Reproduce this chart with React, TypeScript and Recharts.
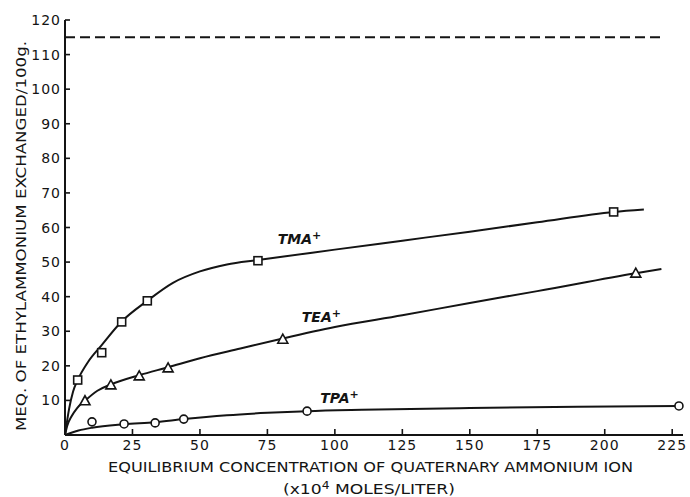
// Ion exchange isotherms: quaternary ammonium ions vs ethylammonium
import { ComposedChart, Label, Line, Scatter, XAxis, YAxis } from "recharts";

// axis ticks
const X_TICKS = [0, 25, 50, 75, 100, 125, 150, 175, 200, 225];
const Y_TICKS = [10, 20, 30, 40, 50, 60, 70, 80, 90, 100, 110, 120];

// measured points (markers)
const TMA_X = [4.7, 13.6, 21, 30.5, 71.5, 203.3];
const TMA_Y = [15.9, 23.8, 32.7, 38.8, 50.4, 64.5];
const TEA_X = [7.4, 17, 27.5, 38.2, 80.7, 211.5];
const TEA_Y = [9.9, 14.5, 17.1, 19.4, 27.7, 46.8];
const TPA_X = [10, 21.9, 33.4, 44, 89.7, 227.5];
const TPA_Y = [3.8, 3.2, 3.5, 4.6, 6.9, 8.4];

// hand drawn curves
const TMA_CURVE_X = [0, 1.5, 3, 4.7, 8.6, 13.6, 21, 30.5, 40, 50, 60, 71.5, 100, 125, 150, 175, 203.3, 214.5];
const TMA_CURVE_Y = [0, 7.5, 12.6, 15.9, 21.2, 26, 32.8, 38.8, 44, 47.3, 49.3, 50.6, 53.6, 56.2, 58.8, 61.5, 64.5, 65.2];
const TEA_CURVE_X = [0, 0.8, 2.5, 4.5, 7.4, 12, 17, 27.5, 38.2, 50, 65, 80.7, 100, 125, 150, 175, 211.5, 221];
const TEA_CURVE_Y = [0, 2.6, 5.5, 7.8, 9.9, 12.8, 14.6, 17.3, 19.6, 22.2, 25, 27.9, 31.2, 34.6, 38.2, 41.6, 46.8, 48];
const TPA_CURVE_X = [0, 5, 10, 21.9, 33.4, 44, 60, 75, 89.7, 110, 150, 190, 227.5];
const TPA_CURVE_Y = [0, 1.3, 2.1, 3.1, 3.7, 4.6, 5.7, 6.4, 6.9, 7.3, 7.8, 8.2, 8.4];

// theoretical exchange capacity (dashed)
const CAPACITY_X = [0, 222];
const CAPACITY_Y = [115, 115];

// curve names and where they sit
const CURVE_NAMES = ["TMA", "TEA", "TPA"];
const NAME_X = [86.9, 95, 101.7];
const NAME_Y = [56.6, 34.2, 10.8];

const INK = "#141414";
const FONT = "'DejaVu Sans', sans-serif";

const toPoints = (xs: number[], ys: number[]) => xs.map((x, i) => ({ x, y: ys[i] }));

const tmaPoints = toPoints(TMA_X, TMA_Y);
const teaPoints = toPoints(TEA_X, TEA_Y);
const tpaPoints = toPoints(TPA_X, TPA_Y);
const tmaCurve = toPoints(TMA_CURVE_X, TMA_CURVE_Y);
const teaCurve = toPoints(TEA_CURVE_X, TEA_CURVE_Y);
const tpaCurve = toPoints(TPA_CURVE_X, TPA_CURVE_Y);
const capacity = toPoints(CAPACITY_X, CAPACITY_Y);
const names = CURVE_NAMES.map((name, i) => ({ x: NAME_X[i], y: NAME_Y[i], name }));

function XTick(props: any) {
  const { x, y, payload } = props;
  return (
    <g>
      <line x1={x} y1={y} x2={x} y2={y - 6} stroke={INK} strokeWidth={1.6} />
      <text x={x} y={y + 15} textAnchor="middle" fontFamily={FONT} fontSize={14} letterSpacing={1} fill={INK}>
        {payload.value}
      </text>
    </g>
  );
}

function YTick(props: any) {
  const { x, y, payload } = props;
  return (
    <g>
      <line x1={x} y1={y} x2={x + 5} y2={y} stroke={INK} strokeWidth={1.6} />
      <text x={x - 4} y={y + 5} textAnchor="end" fontFamily={FONT} fontSize={14} letterSpacing={1} fill={INK}>
        {payload.value}
      </text>
    </g>
  );
}

const square = (p: any) => (
  <rect x={p.cx - 4} y={p.cy - 4} width={8} height={8} fill="#fff" stroke={INK} strokeWidth={1.6} />
);
const triangle = (p: any) => (
  <path d={`M${p.cx},${p.cy - 5} L${p.cx + 5},${p.cy + 4} L${p.cx - 5},${p.cy + 4} Z`} fill="#fff" stroke={INK} strokeWidth={1.6} />
);
const circle = (p: any) => <circle cx={p.cx} cy={p.cy} r={4} fill="#fff" stroke={INK} strokeWidth={1.6} />;

const nameShape = (p: any) => (
  <text x={p.cx} y={p.cy + 5} textAnchor="middle" fontFamily={FONT} fontSize={14} fontStyle="italic" fontWeight="bold" fill={INK}>
    {p.payload.name}
    <tspan dy={-5} fontSize={11}>+</tspan>
  </text>
);

export default function App() {
  return (
    <div style={{ position: "absolute", left: 0, top: 0, background: "#fff" }}>
      <ComposedChart width={690} height={497} margin={{ top: 20, right: 7, bottom: 0, left: 0 }}>
        <XAxis
          dataKey="x"
          type="number"
          domain={[0, 229]}
          ticks={X_TICKS}
          interval={0}
          height={62}
          tickSize={0}
          tickMargin={0}
          tickLine={false}
          tick={<XTick />}
          axisLine={{ stroke: INK, strokeWidth: 2 }}
        >
          <Label
            content={(p: any) => {
              const vb = p.viewBox;
              return (
                <g fontFamily={FONT} fill={INK}>
                  <text x={vb.x + 305.5} y={vb.y + 37} textAnchor="middle" fontSize={14} textLength={525} lengthAdjust="spacingAndGlyphs">
                    EQUILIBRIUM CONCENTRATION OF QUATERNARY AMMONIUM ION
                  </text>
                  <text x={vb.x + 304} y={vb.y + 59} textAnchor="middle" fontSize={14} textLength={172} lengthAdjust="spacingAndGlyphs">
                    (x10<tspan dy={-5} fontSize={10}>4</tspan>
                    <tspan dy={5}> MOLES/LITER)</tspan>
                  </text>
                </g>
              );
            }}
          />
        </XAxis>
        <YAxis
          dataKey="y"
          type="number"
          domain={[0, 120]}
          ticks={Y_TICKS}
          interval={0}
          width={65}
          tickSize={0}
          tickMargin={0}
          tickLine={false}
          tick={<YTick />}
          axisLine={{ stroke: INK, strokeWidth: 2 }}
        >
          <Label
            content={(p: any) => {
              const vb = p.viewBox;
              const cx = vb.x + 21;
              const cy = 236;
              return (
                <text
                  x={cx}
                  y={cy}
                  transform={`rotate(-90 ${cx} ${cy})`}
                  textAnchor="middle"
                  dominantBaseline="central"
                  fontFamily={FONT}
                  fontSize={14}
                  fill={INK}
                  textLength={390}
                  lengthAdjust="spacingAndGlyphs"
                >
                  MEQ. OF ETHYLAMMONIUM EXCHANGED/100g.
                </text>
              );
            }}
          />
        </YAxis>

        <Line data={capacity} dataKey="y" type="linear" stroke={INK} strokeWidth={2} strokeDasharray="10 5" dot={false} isAnimationActive={false} />
        <Line data={tmaCurve} dataKey="y" type="monotone" stroke={INK} strokeWidth={2} dot={false} isAnimationActive={false} />
        <Line data={teaCurve} dataKey="y" type="monotone" stroke={INK} strokeWidth={2} dot={false} isAnimationActive={false} />
        <Line data={tpaCurve} dataKey="y" type="monotone" stroke={INK} strokeWidth={2} dot={false} isAnimationActive={false} />

        <Scatter data={tmaPoints} dataKey="y" shape={square} isAnimationActive={false} />
        <Scatter data={teaPoints} dataKey="y" shape={triangle} isAnimationActive={false} />
        <Scatter data={tpaPoints} dataKey="y" shape={circle} isAnimationActive={false} />
        <Scatter data={names} dataKey="y" shape={nameShape} isAnimationActive={false} />
      </ComposedChart>
    </div>
  );
}
